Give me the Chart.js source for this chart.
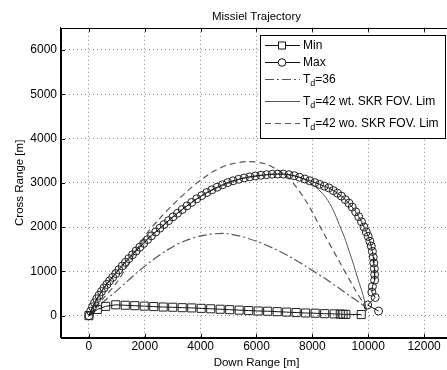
<!DOCTYPE html>
<html>
<head>
<meta charset="utf-8">
<script src="https://cdn.jsdelivr.net/npm/chart.js@4.4.1/dist/chart.umd.min.js"></script>
<style>
html, body { margin: 0; padding: 0; overflow: hidden; background: #fff; }
</style>
</head>
<body>
<canvas id="trajChart" width="460" height="370"></canvas>
<script>
// tick values
const xTicks = [0, 2000, 4000, 6000, 8000, 10000, 12000];
const yTicks = [0, 1000, 2000, 3000, 4000, 5000, 6000];

// Min (squares)
const minX = [0, 300, 600, 960, 1300, 1640, 1980, 2320, 2660, 3000,
    3340, 3680, 4020, 4360, 4700, 5040, 5380, 5720, 6060, 6400,
    6740, 7080, 7420, 7760, 8100, 8440, 8780, 9000, 9100, 9200, 9750];
const minY = [0, 140, 210, 245, 235, 225, 215, 205, 195, 190,
    180, 175, 165, 155, 145, 135, 125, 115, 105, 100,
    90, 80, 70, 60, 55, 45, 40, 35, 30, 30, 25];

// Max (circles)
const maxX = [0, 60, 130, 200, 280, 360, 450, 540, 640, 740,
    850, 960, 1070, 1190, 1310, 1430, 1560, 1690, 1820, 1960,
    2100, 2240, 2390, 2540, 2690, 2850, 3010, 3170, 3340, 3510,
    3680, 3860, 4040, 4220, 4400, 4590, 4780, 4970, 5160, 5360,
    5560, 5760, 5960, 6160, 6360, 6560, 6760, 6960, 7160, 7350,
    7540, 7730, 7910, 8090, 8260, 8430, 8590, 8750, 8900, 9040,
    9180, 9310, 9430, 9550, 9660, 9760, 9850, 9930, 10000, 10060,
    10110, 10150, 10180, 10200, 10220, 10230, 10230, 10150, 10130, 10250,
    9980, 10370];
const maxY = [0, 100, 200, 290, 380, 460, 545, 625, 705, 785,
    865, 950, 1035, 1120, 1205, 1288, 1375, 1460, 1545, 1632,
    1718, 1803, 1890, 1975, 2058, 2145, 2230, 2312, 2396, 2478,
    2557, 2638, 2712, 2780, 2840, 2900, 2955, 3005, 3045, 3080,
    3110, 3135, 3155, 3170, 3183, 3193, 3198, 3196, 3182, 3160,
    3125, 3085, 3045, 3005, 2965, 2925, 2885, 2825, 2765, 2700,
    2620, 2540, 2450, 2345, 2235, 2120, 2000, 1890, 1790, 1680,
    1570, 1450, 1320, 1190, 1060, 930, 800, 660, 530, 410,
    240, 105];

// Td=36 (dash-dot)
const td36X = [0, 500, 1060, 1660, 2210, 2800, 3400, 4000, 4800, 5380,
    6000, 6570, 7200, 7770, 8400, 8960, 9400, 9800, 9940];
const td36Y = [0, 300, 600, 940, 1220, 1480, 1680, 1800, 1860, 1800,
    1680, 1530, 1330, 1110, 860, 620, 420, 240, 110];

// Td=42 with seeker FOV limit (solid)
const wtX = [0, 500, 1000, 1500, 2000, 2500, 3000, 3500, 4000, 4500,
    5000, 5500, 6000, 6500, 7000, 7500, 7770, 8130, 8480, 8750,
    8960, 9150, 9320, 9480, 9620, 9750, 9860, 9940];
const wtY = [0, 600, 1000, 1360, 1690, 1945, 2225, 2470, 2690, 2860,
    2990, 3100, 3150, 3190, 3195, 3130, 3060, 2900, 2670, 2380,
    2060, 1770, 1450, 1150, 850, 600, 360, 110];

// Td=42 without seeker FOV limit (dashed)
const woX = [0, 500, 1000, 1400, 1700, 2090, 2500, 3000, 3500, 4000,
    4500, 5000, 5700, 6300, 6700, 7170, 7770, 8360, 8960, 9500, 9860, 9940];
const woY = [0, 380, 750, 1150, 1480, 1870, 2170, 2500, 2800, 3060,
    3270, 3410, 3480, 3430, 3310, 3100, 2590, 1910, 1230, 620, 240, 110];

const labels = ['Min', 'Max', 'T_d=36', 'T_d=42 wt. SKR FOV. Lim', 'T_d=42 wo. SKR FOV. Lim'];

const FONT = "'Liberation Sans', Arial, sans-serif";

const pts = (xs, ys) => xs.map((v, i) => ({x: v, y: ys[i]}));

// MATLAB-ish frame, inward ticks and legend box
const matlabFrame = {
    id: 'matlabFrame',
    afterDatasetsDraw(chart) {
        const {ctx, chartArea: a, scales: {x, y}} = chart;
        ctx.save();
        ctx.strokeStyle = '#000';
        ctx.lineWidth = 1;
        ctx.setLineDash([]);
        ctx.strokeRect(Math.round(a.left) + 0.5, Math.round(a.top) + 0.5,
            Math.round(a.right - a.left), Math.round(a.bottom - a.top));

        ctx.beginPath();
        x.ticks.forEach(t => {
            const px = Math.round(x.getPixelForValue(t.value)) + 0.5;
            ctx.moveTo(px, a.bottom); ctx.lineTo(px, a.bottom - 4);
            ctx.moveTo(px, a.top); ctx.lineTo(px, a.top + 4);
        });
        y.ticks.forEach(t => {
            const py = Math.round(y.getPixelForValue(t.value)) + 0.5;
            ctx.moveTo(a.left, py); ctx.lineTo(a.left + 4, py);
        });
        ctx.stroke();

        // legend
        const bx = 260.5, by = 35.5, bw = 185, bh = 103;
        ctx.fillStyle = '#fff';
        ctx.fillRect(bx, by, bw, bh);
        ctx.strokeRect(bx, by, bw, bh);

        const rows = [45, 62, 79, 101, 123];
        chart.data.datasets.forEach((ds, i) => {
            const ry = rows[i] + 0.5;
            ctx.strokeStyle = ds.borderColor;
            ctx.lineWidth = 1;
            ctx.setLineDash(ds.borderDash || []);
            ctx.beginPath();
            ctx.moveTo(265, ry);
            ctx.lineTo(300, ry);
            ctx.stroke();
            ctx.setLineDash([]);
            if (ds.pointRadius > 0) {
                ctx.fillStyle = '#fff';
                ctx.beginPath();
                if (ds.pointStyle === 'rect') {
                    ctx.rect(278.5, ry - 3.5, 7, 7);
                } else {
                    ctx.arc(282, ry, 3.8, 0, Math.PI * 2);
                }
                ctx.fill();
                ctx.stroke();
            }
            drawLabel(ctx, ds.label, 303, ry);
        });
        ctx.restore();
    }
};

function drawLabel(ctx, text, x, y) {
    ctx.fillStyle = '#000';
    ctx.textBaseline = 'middle';
    ctx.textAlign = 'left';
    const m = text.match(/^(.*?)_(\w)(.*)$/);
    ctx.font = '12px ' + FONT;
    if (!m) {
        ctx.fillText(text, x, y);
        return;
    }
    ctx.fillText(m[1], x, y);
    x += ctx.measureText(m[1]).width;
    ctx.font = '9px ' + FONT;
    ctx.fillText(m[2], x, y + 4);
    x += ctx.measureText(m[2]).width;
    ctx.font = '12px ' + FONT;
    ctx.fillText(m[3], x, y);
}

const ctx = document.getElementById('trajChart').getContext('2d');
new Chart(ctx, {
    type: 'scatter',
    data: {
        datasets: [
            {
                label: labels[0],
                data: pts(minX, minY),
                showLine: true,
                borderColor: '#111',
                borderWidth: 1,
                pointStyle: 'rect',
                pointRadius: 5.7,
                pointBorderWidth: 1,
                pointBackgroundColor: 'rgba(0,0,0,0)',
                pointBorderColor: '#222'
            },
            {
                label: labels[1],
                data: pts(maxX, maxY),
                showLine: true,
                borderColor: '#111',
                borderWidth: 1,
                pointStyle: 'circle',
                pointRadius: 4,
                pointBorderWidth: 1,
                pointBackgroundColor: 'rgba(0,0,0,0)',
                pointBorderColor: '#222'
            },
            {
                label: labels[2],
                data: pts(td36X, td36Y),
                showLine: true,
                borderColor: '#555',
                borderWidth: 1.2,
                borderDash: [9, 3, 2, 3],
                pointRadius: 0,
                tension: 0.3
            },
            {
                label: labels[3],
                data: pts(wtX, wtY),
                showLine: true,
                borderColor: '#555',
                borderWidth: 1,
                pointRadius: 0,
                tension: 0.3
            },
            {
                label: labels[4],
                data: pts(woX, woY),
                showLine: true,
                borderColor: '#555',
                borderWidth: 1.2,
                borderDash: [6, 4],
                pointRadius: 0,
                tension: 0.3
            }
        ]
    },
    options: {
        responsive: false,
        animation: false,
        events: [],
        layout: {
            padding: {left: 0, right: 8, top: 0, bottom: 0}
        },
        plugins: {
            legend: {display: false},
            tooltip: {enabled: false},
            title: {
                display: true,
                text: 'Missiel Trajectory',
                fullSize: false,
                color: '#000',
                font: {family: FONT, size: 11.5, weight: 'normal'},
                padding: {top: 10, bottom: 4}
            }
        },
        scales: {
            x: {
                type: 'linear',
                min: -1000,
                max: 13000,
                afterBuildTicks: axis => {
                    axis.ticks = xTicks.map(v => ({value: v}));
                },
                ticks: {
                    color: '#000',
                    font: {family: FONT, size: 12},
                    padding: 2,
                    maxRotation: 0,
                    callback: v => String(v)
                },
                grid: {color: '#888', drawTicks: false},
                border: {display: true, color: '#000', dash: [1, 3]},
                title: {
                    display: true,
                    text: 'Down Range [m]',
                    color: '#000',
                    font: {family: FONT, size: 11.5},
                    padding: {top: 0, bottom: 0}
                }
            },
            y: {
                type: 'linear',
                min: -500,
                max: 6500,
                afterBuildTicks: axis => {
                    axis.ticks = yTicks.map(v => ({value: v}));
                },
                ticks: {
                    color: '#000',
                    font: {family: FONT, size: 12},
                    padding: 4,
                    callback: v => String(v)
                },
                grid: {color: '#888', drawTicks: false},
                border: {display: true, color: '#000', dash: [1, 3]},
                title: {
                    display: true,
                    text: 'Cross Range [m]',
                    color: '#000',
                    font: {family: FONT, size: 11.5},
                    padding: {top: 12.5, bottom: 0}
                }
            }
        }
    },
    plugins: [matlabFrame]
});
</script>
</body>
</html>
